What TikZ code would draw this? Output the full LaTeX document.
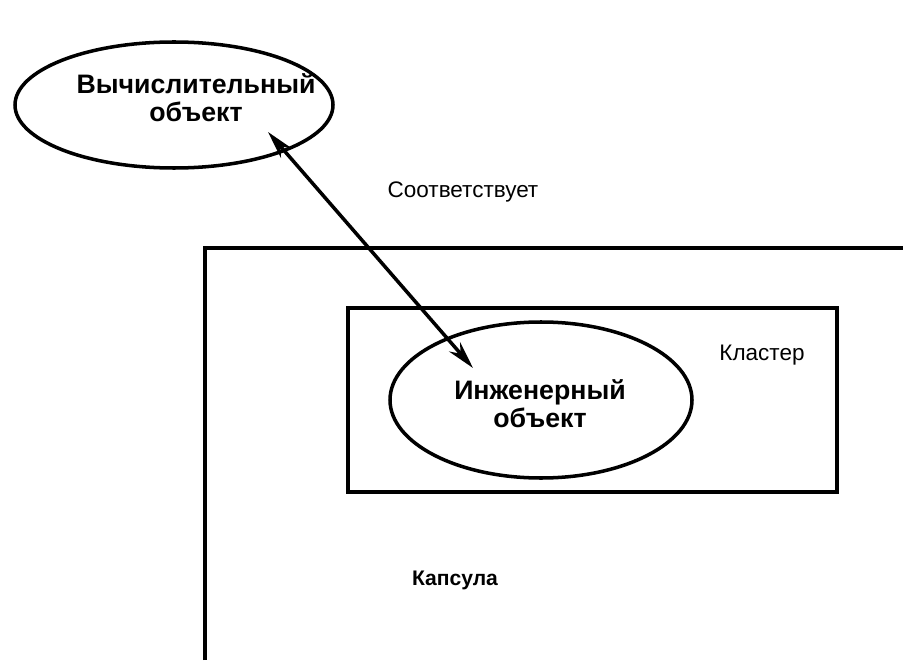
\documentclass[tikz,border=0pt]{standalone}
\usepackage{fontspec}
\setmainfont{Liberation Sans}
\usetikzlibrary{arrows.meta,shapes.geometric}

\begin{document}
\begin{tikzpicture}[
  obj/.style = {draw, ellipse, line width=2.5pt, inner sep=0pt},
  bigtext/.style = {align=center, font=\fontsize{19}{20}\selectfont\bfseries},
  smalltext/.style = {font=\fontsize{16}{18}\selectfont},
  frame/.style = {line width=2.3pt}
]
\useasboundingbox (0,0) rectangle (22.575,16.5);

% capsule and cluster
\draw[frame] (5.125,0) -- (5.125,10.3) -- (22.575,10.3);
\draw[frame] (8.7,4.2) rectangle (20.925,8.8);

% the two objects
\node[obj, minimum width=7.95cm, minimum height=3.15cm] (comp) at (4.35,13.875) {};
\node[bigtext] (comptext) at (4.9,14.05) {Вычислительный\\объект};
\node[obj, minimum width=7.55cm, minimum height=3.9cm] (eng) at (13.525,6.5) {};
\node[bigtext] (engtext) at (13.5,6.4) {Инженерный\\объект};

% labels
\node[smalltext] (corr) at (11.575,11.7) {Соответствует};
\node[smalltext] (clust) at (19.05,7.62) {Кластер};
\node[font=\fontsize{15}{17}\selectfont\bfseries] (caps) at (11.375,2.0) {Капсула};

% correspondence
\coordinate (a) at (6.7,13.2);
\coordinate (b) at (11.825,7.3);
\draw[line width=2.5pt, {Stealth[length=7mm,width=3.6mm]}-{Stealth[length=7mm,width=3.6mm]}] (a) -- (b);

\end{tikzpicture}
\end{document}
